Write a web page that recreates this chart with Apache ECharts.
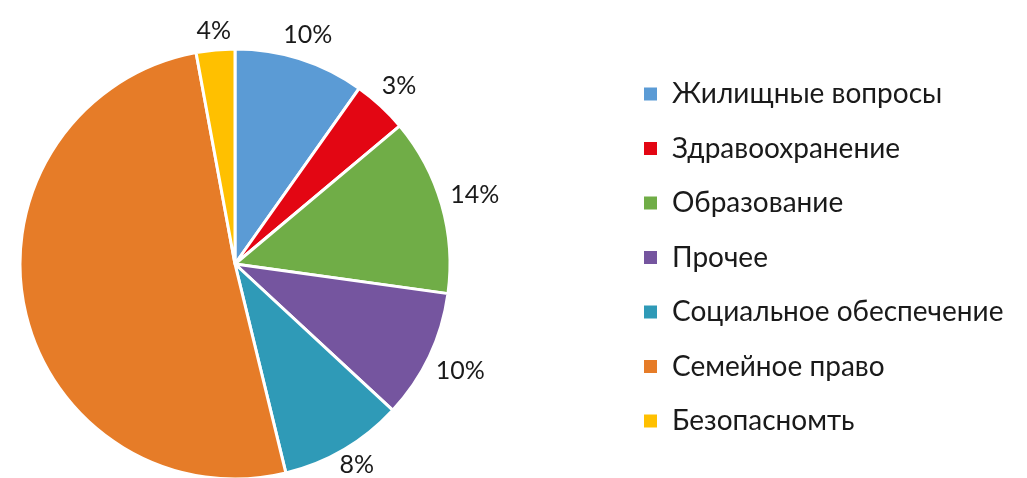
<!DOCTYPE html>
<html>
<head>
<meta charset="utf-8">
<script src="https://cdn.jsdelivr.net/npm/echarts@6/dist/echarts.min.js"></script>
<style>
  html, body { margin: 0; padding: 0; background: #fff; }
  #chart { width: 1027px; height: 478px; }
</style>
</head>
<body>
<div id="chart"></div>
<script>
// categories, in the clockwise order from 12 o'clock
const categories = ['Жилищные вопросы', 'Здравоохранение', 'Образование', 'Прочее',
  'Социальное обеспечение', 'Семейное право', 'Безопасномть'];
// slice shares (angles)
const shares = [9.8, 4.1, 13.3, 9.7, 9.3, 50.9, 2.9];
// labels as printed on the chart
const labelTexts = ['10%', '3%', '14%', '10%', '8%', '', '4%'];
const colors = ['#5B9BD5', '#E30613', '#70AD47', '#75559F', '#2F9AB7', '#E67C28', '#FFC000'];

const font = 'Lato, "Noto Sans", sans-serif';
const cx = 235, cy = 264, R = 215;

const total = shares.reduce((a, b) => a + b, 0);
const midAngles = [];
let acc = 0;
shares.forEach(v => { midAngles.push((acc + v / 2) / total * Math.PI * 2); acc += v; });

let chart = echarts.init(document.getElementById('chart'));
chart.setOption({
  animation: false,
  color: colors,
  legend: {
    orient: 'vertical',
    left: 637,
    top: 75,
    itemWidth: 15,
    itemHeight: 15,
    itemGap: 26.5,
    icon: 'rect',
    textStyle: { fontFamily: font, fontSize: 28, lineHeight: 28, color: '#1a1a1a', padding: [0, 0, 0, 9] },
    data: categories
  },
  series: [{
    type: 'pie',
    center: [cx, cy],
    radius: R,
    startAngle: 90,
    clockwise: true,
    itemStyle: { borderColor: '#fff', borderWidth: 3 },
    label: {
      show: true,
      position: 'outside',
      fontFamily: font,
      fontSize: 25,
      color: '#1a1a1a',
      formatter: p => labelTexts[p.dataIndex]
    },
    labelLine: { show: false },
    // put each label just off the rim, centred on the slice's middle direction
    labelLayout: p => {
      const a = midAngles[p.dataIndex];
      const sx = Math.sin(a), sy = -Math.cos(a);
      const ext = Math.abs(sx) * p.labelRect.width / 2 + Math.abs(sy) * 10;
      const r = R + 8 + ext;
      // keep the bottom label inside the canvas
      return { x: cx + sx * r, y: Math.min(cy + sy * r, 465), align: 'center', verticalAlign: 'middle' };
    },
    emphasis: { disabled: true },
    data: categories.map((name, i) => ({ name: name, value: shares[i] }))
  }]
});
</script>
</body>
</html>
